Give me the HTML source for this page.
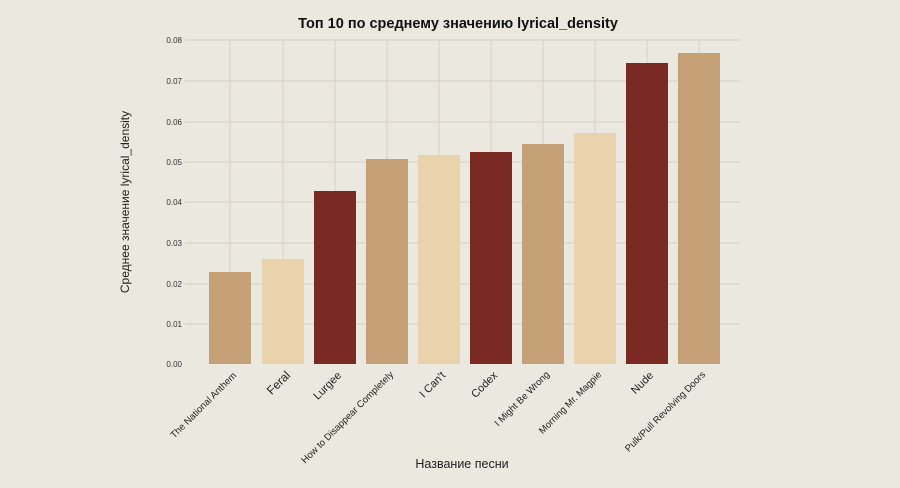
<!DOCTYPE html>
<html><head><meta charset="utf-8"><style>
html,body{margin:0;padding:0;background:#ebe8e0;}
svg{display:block;font-family:"Liberation Sans","DejaVu Sans",sans-serif;}
</style></head><body>
<svg width="900" height="488" viewBox="0 0 900 488" xmlns="http://www.w3.org/2000/svg">
<rect width="900" height="488" fill="#ebe8e0"/>
<text x="458" y="28" text-anchor="middle" font-size="14.5" font-weight="bold" fill="#111">Топ 10 по среднему значению lyrical_density</text>
<g stroke="#d6d1c6" stroke-width="1">
<line x1="185" x2="740" y1="40" y2="40"/><line x1="185" x2="740" y1="81" y2="81"/><line x1="185" x2="740" y1="122" y2="122"/><line x1="185" x2="740" y1="162" y2="162"/><line x1="185" x2="740" y1="202" y2="202"/><line x1="185" x2="740" y1="243" y2="243"/><line x1="185" x2="740" y1="284" y2="284"/><line x1="185" x2="740" y1="324" y2="324"/>
<line y1="40" y2="364" x1="230" x2="230"/><line y1="40" y2="364" x1="283" x2="283"/><line y1="40" y2="364" x1="335" x2="335"/><line y1="40" y2="364" x1="387" x2="387"/><line y1="40" y2="364" x1="439" x2="439"/><line y1="40" y2="364" x1="491" x2="491"/><line y1="40" y2="364" x1="543" x2="543"/><line y1="40" y2="364" x1="595" x2="595"/><line y1="40" y2="364" x1="647" x2="647"/><line y1="40" y2="364" x1="699" x2="699"/>
</g>
<g font-size="8" fill="#333" text-anchor="end">
<text x="182" y="43">0.08</text><text x="182" y="84">0.07</text><text x="182" y="125">0.06</text><text x="182" y="165">0.05</text><text x="182" y="205">0.04</text><text x="182" y="246">0.03</text><text x="182" y="287">0.02</text><text x="182" y="327">0.01</text><text x="182" y="367">0.00</text>
</g>
<g>
<rect x="209" y="272" width="42" height="92" fill="#c6a077"/>
<rect x="262" y="259" width="42" height="105" fill="#e8d3ad"/>
<rect x="314" y="191" width="42" height="173" fill="#7a2a22"/>
<rect x="366" y="159" width="42" height="205" fill="#c6a077"/>
<rect x="418" y="155" width="42" height="209" fill="#e8d3ad"/>
<rect x="470" y="152" width="42" height="212" fill="#7a2a22"/>
<rect x="522" y="144" width="42" height="220" fill="#c6a077"/>
<rect x="574" y="133" width="42" height="231" fill="#e8d3ad"/>
<rect x="626" y="63" width="42" height="301" fill="#7a2a22"/>
<rect x="678" y="53" width="42" height="311" fill="#c6a077"/>
</g>
<g font-size="9.5" fill="#222" text-anchor="end">
<text transform="translate(237,376) rotate(-45)">The National Anthem</text>
<text transform="translate(291,376) rotate(-45)" font-size="12">Feral</text>
<text transform="translate(342,376) rotate(-45)" font-size="11">Lurgee</text>
<text transform="translate(394,375) rotate(-45)">How to Disappear Completely</text>
<text transform="translate(446,376) rotate(-45)" font-size="11">I Can't</text>
<text transform="translate(498,376) rotate(-45)" font-size="11">Codex</text>
<text transform="translate(550,375) rotate(-45)">I Might Be Wrong</text>
<text transform="translate(602,375) rotate(-45)">Morning Mr. Magpie</text>
<text transform="translate(654,376) rotate(-45)" font-size="11">Nude</text>
<text transform="translate(706,375) rotate(-45)">Pulk/Pull Revolving Doors</text>
</g>
<text x="462" y="468" text-anchor="middle" font-size="12.5" fill="#222">Название песни</text>
<text transform="translate(129,202) rotate(-90)" text-anchor="middle" font-size="12" fill="#222">Среднее значение lyrical_density</text>
</svg>
</body></html>
